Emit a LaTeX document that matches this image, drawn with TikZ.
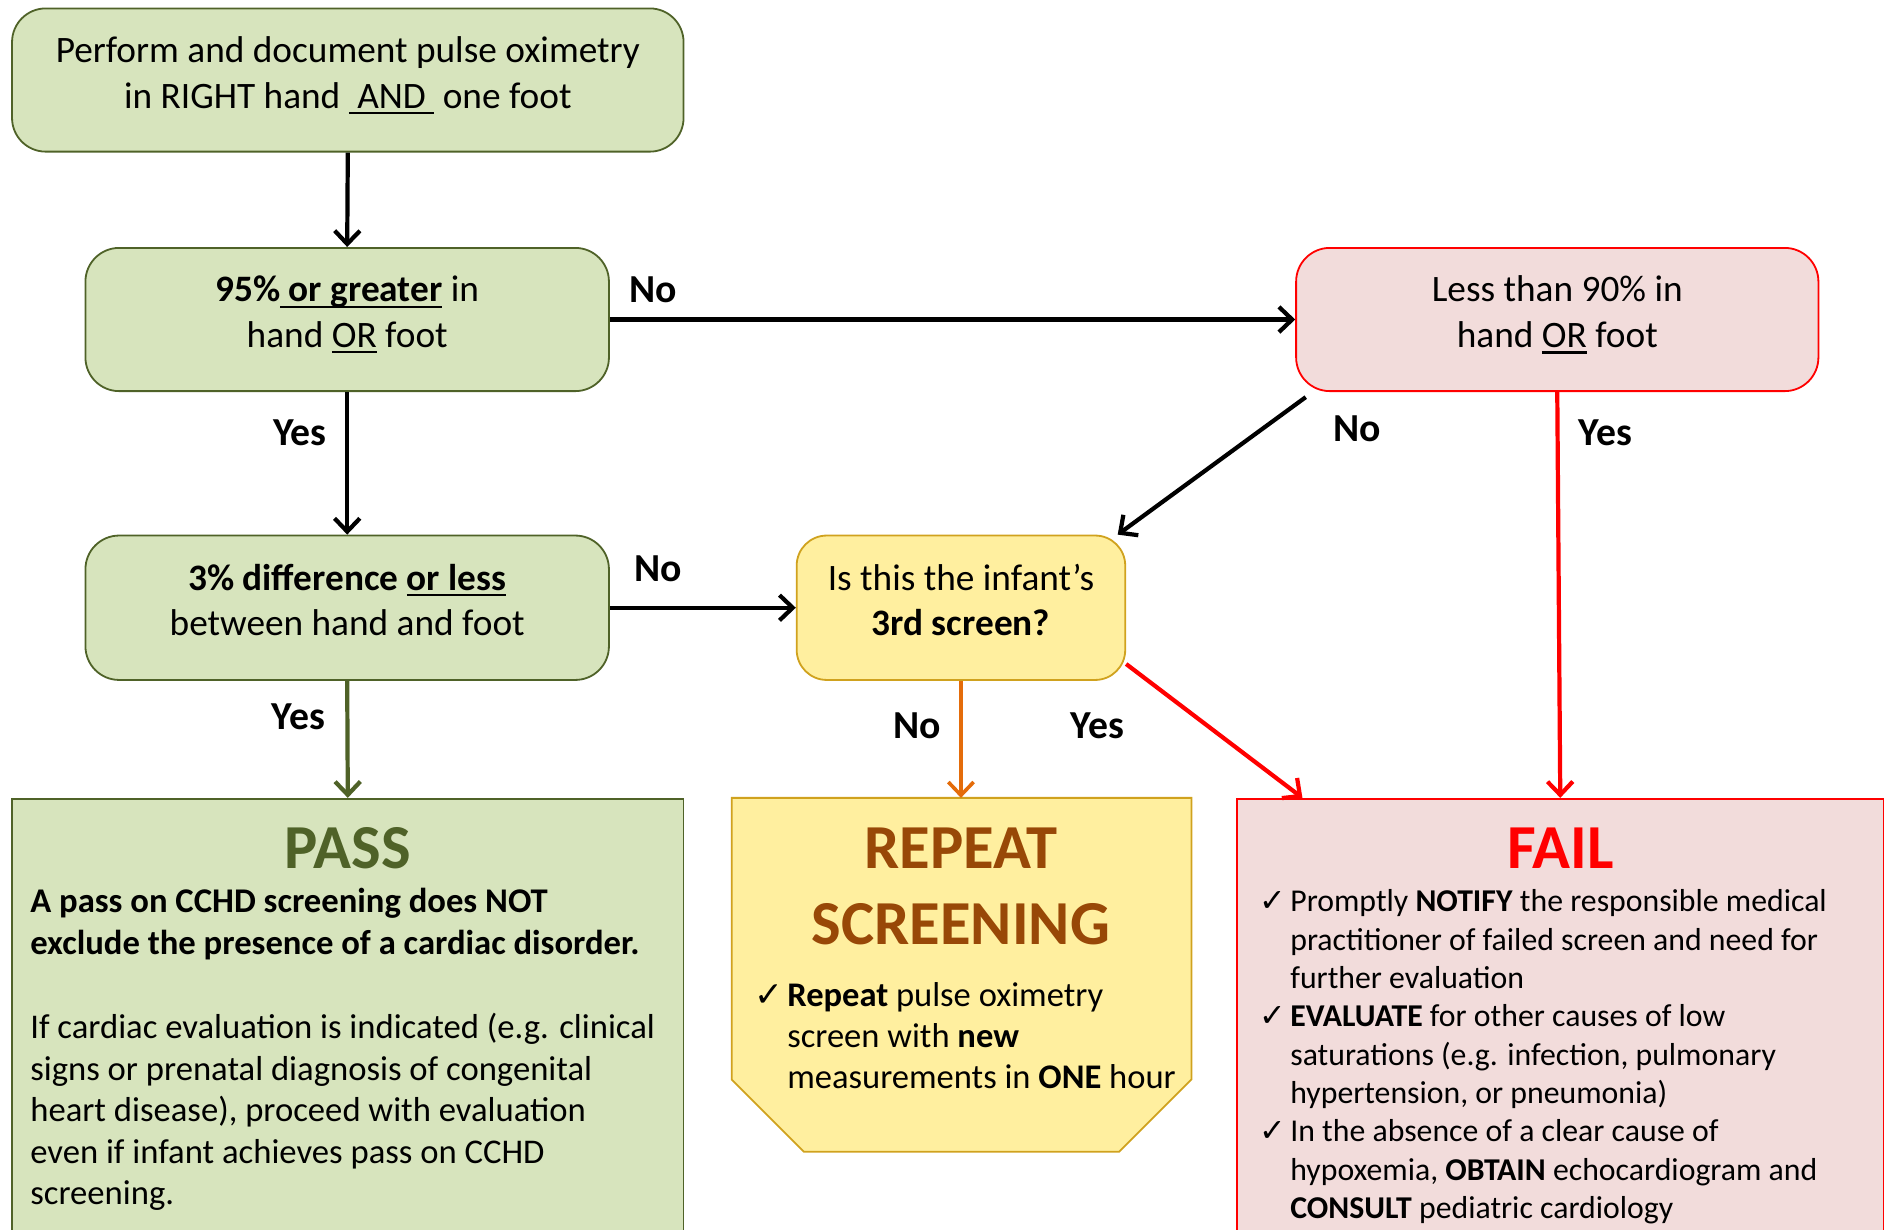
\documentclass[tikz,border=0pt]{standalone}
\usepackage{fontspec}
\setmainfont{Carlito}
\newfontfamily\symfont{DejaVu Sans}
\usetikzlibrary{arrows.meta}

\definecolor{greenfill}{HTML}{D7E4BD}
\definecolor{greenline}{HTML}{4F6228}
\definecolor{pinkfill}{HTML}{F2DCDB}
\definecolor{failred}{HTML}{FF0000}
\definecolor{yelfill}{HTML}{FFEF9F}
\definecolor{yelline}{HTML}{D0A21E}
\definecolor{brown}{HTML}{984807}
\definecolor{orangearr}{HTML}{E46C0A}

\newcommand{\undl}[1]{\setbox0\hbox{#1}\rlap{\rule[-5pt]{\wd0}{1.8pt}}\box0\relax}
\newcommand{\chk}[1]{\makebox[#1][l]{\symfont ✓}}

\begin{document}
\begin{tikzpicture}[x=1pt,y=-1pt,
    boxtext/.style={font=\fontsize{31}{38}\selectfont, align=center, execute at end node={\rule[-13pt]{0pt}{13pt}}},
    greenbox/.style={boxtext, draw=greenline, fill=greenfill, line width=1.5pt, rounded corners=28pt, minimum height=119pt},
    pinkbox/.style={boxtext, draw=failred, fill=pinkfill, line width=1.5pt, rounded corners=28pt, minimum height=119pt},
    yelbox/.style={boxtext, draw=yelline, fill=yelfill, line width=1.5pt, rounded corners=25pt, minimum height=120pt},
    lbl/.style={font=\fontsize{33}{40}\selectfont\bfseries, inner sep=0pt},
    title/.style={font=\fontsize{52}{60}\selectfont\bfseries, inner sep=0pt, anchor=base},
    arr/.style={line width=3.5pt, -{Straight Barb[length=11pt,width=21pt]}}]
  \useasboundingbox (0,0) rectangle (1568,1022);

  \node[greenbox, minimum width=558pt] (start) at (289,66.5) {Perform and document pulse oximetry\\in RIGHT hand \undl{\ AND\ } one foot};
  \node[greenbox, minimum width=435pt] (high) at (288.5,265.5) {\textbf{95\%\undl{ or greater}} in\\hand \undl{OR} foot};
  \node[pinkbox, minimum width=434pt] (low) at (1294,265.5) {Less than 90\% in\\hand \undl{OR} foot};
  \node[greenbox, minimum width=435pt, minimum height=120pt] (diff) at (288.5,505) {\textbf{3\% difference \undl{or less}}\\between hand and foot};
  \node[yelbox, minimum width=273pt] (third) at (798.5,505) {Is this the infant’s\\\textbf{3rd screen?}};

  \node[draw=greenline, fill=greenfill, line width=1.5pt, minimum width=558pt, minimum height=400pt, anchor=north] (pass) at (289,663) {};
  \node[draw=failred, fill=pinkfill, line width=1.5pt, minimum width=537pt, minimum height=400pt, anchor=north] (fail) at (1296.5,663) {};
  \draw[draw=yelline, fill=yelfill, line width=1.5pt] (608,663) -- (990,663) -- (990,897) -- (930,957) -- (668,957) -- (608,897) -- cycle;
  \coordinate (rep) at (798.5,663);
  \coordinate (lowno) at (1085,330);

  \node[title, text=greenline] (passtitle) at (289,722) {PASS};
  \node[title, text=brown] (reptitle) at (798.5,722) {REPEAT};
  \node[title, text=brown] (reptitle2) at (798.5,785) {SCREENING};
  \node[title, text=failred] (failtitle) at (1297,722) {FAIL};

  \node[anchor=north west, inner sep=0pt, align=left, font=\fontsize{28.8}{35}\selectfont\bfseries] (passnote) at (25,738) {A pass on CCHD screening does NOT\\exclude the presence of a cardiac disorder.};
  \node[anchor=north west, inner sep=0pt, align=left, font=\fontsize{28.8}{34.5}\selectfont] (passtext) at (25,842) {If cardiac evaluation is indicated (e.g. clinical\\signs or prenatal diagnosis of congenital\\heart disease), proceed with evaluation\\even if infant achieves pass on CCHD\\screening.};
  \node[anchor=north west, inner sep=0pt, align=left, font=\fontsize{28.7}{34}\selectfont] (reptext) at (627,816) {\chk{27pt}\textbf{Repeat} pulse oximetry\\\hspace*{27pt}screen with \textbf{new}\\\hspace*{27pt}measurements in \textbf{ONE} hour};
  \node[anchor=north west, inner sep=0pt, align=left, font=\fontsize{26.4}{31.9}\selectfont] (failtext) at (1046,739) {\chk{26pt}Promptly \textbf{NOTIFY} the responsible medical\\\hspace*{26pt}practitioner of failed screen and need for\\\hspace*{26pt}further evaluation\\\chk{26pt}\textbf{EVALUATE} for other causes of low\\\hspace*{26pt}saturations (e.g. infection, pulmonary\\\hspace*{26pt}hypertension, or pneumonia)\\\chk{26pt}In the absence of a clear cause of\\\hspace*{26pt}hypoxemia, \textbf{OBTAIN} echocardiogram and\\\hspace*{26pt}\textbf{CONSULT} pediatric cardiology};

  \draw[arr] (start.south) -- (high.north);
  \draw[arr] (high.east) -- (low.west);
  \draw[arr] (high.south) -- (diff.north);
  \draw[arr] (diff.east) -- (third.west);
  \draw[arr] (lowno) -- ([xshift=-7pt]third.north east);
  \draw[arr, draw=failred] (low.south) -- (fail.north);
  \draw[arr, draw=failred] ([yshift=14pt]third.south east) -- ([xshift=55pt]fail.north west);
  \draw[arr, draw=orangearr, line width=3pt] (third.south) -- (rep);
  \draw[arr, draw=greenline] (diff.south) -- (pass.north);

  \node[lbl] (no1) at (543,241) {No};
  \node[lbl] (yes1) at (249,360) {Yes};
  \node[lbl] (no2) at (547,473) {No};
  \node[lbl] (yes2) at (248,596) {Yes};
  \node[lbl] (no3) at (1128,356) {No};
  \node[lbl] (yes3) at (1334,360) {Yes};
  \node[lbl] (no4) at (762,603) {No};
  \node[lbl] (yes4) at (912,603) {Yes};
\end{tikzpicture}
\end{document}
